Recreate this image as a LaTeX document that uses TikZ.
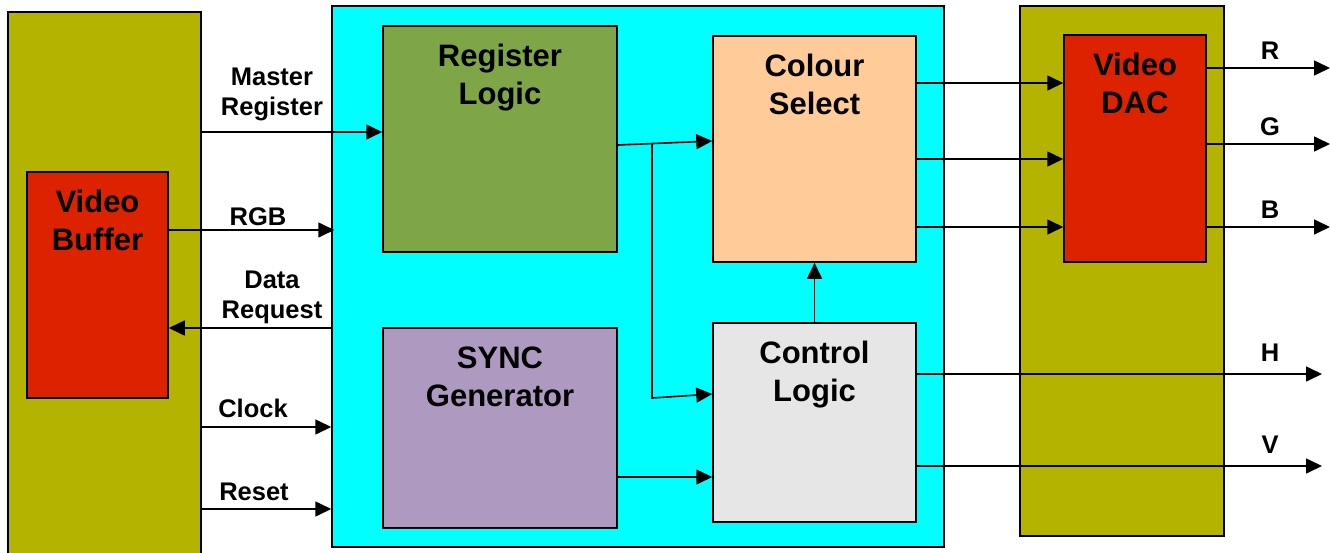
\documentclass[tikz,border=0pt]{standalone}
\usepackage{fontspec}
\setmainfont{Liberation Sans}
\usetikzlibrary{arrows.meta}
\definecolor{hostolive}{RGB}{180,180,0}
\definecolor{blockred}{RGB}{221,34,0}
\definecolor{regcyan}{RGB}{0,255,255}
\definecolor{reggreen}{RGB}{126,166,70}
\definecolor{selpeach}{RGB}{255,204,153}
\definecolor{syncpurple}{RGB}{174,154,192}
\definecolor{ctrlgrey}{RGB}{230,230,230}
\begin{document}
\begin{tikzpicture}[x=1pt,y=-1pt,
  blk/.style={draw=black,line width=1.5pt,rectangle,inner sep=0pt},
  title/.style={anchor=north,inner sep=0pt,yshift=-19pt,align=center,
    font=\fontsize{31}{38}\selectfont\bfseries},
  lbl/.style={align=center,inner sep=0pt,font=\fontsize{25.5}{30}\selectfont\bfseries},
  sig/.style={line width=1.6pt,-{Triangle[length=16pt,width=15pt]}}]
\useasboundingbox (0,0) rectangle (1330,552);
% host blocks
\node[blk,fill=hostolive,minimum width=193pt,minimum height=548pt] (bufhost) at (104.5,286) {};
\node[blk,fill=blockred,minimum width=141pt,minimum height=226pt,
  label={[title]north:{Video\\Buffer}}] (buffer) at (97.5,285) {};
\node[blk,fill=hostolive,minimum width=204pt,minimum height=530pt] (dachost) at (1122,271) {};
\node[blk,fill=blockred,minimum width=142pt,minimum height=227pt,
  label={[title]north:{Video\\DAC}}] (dac) at (1135,148.5) {};
% controller
\node[blk,fill=regcyan,minimum width=612pt,minimum height=541pt] (cyan) at (638,276.5) {};
\node[blk,fill=reggreen,minimum width=234pt,minimum height=226pt,
  label={[title]north:{Register\\Logic}}] (reglogic) at (500,139) {};
\node[blk,fill=selpeach,minimum width=203pt,minimum height=226pt,
  label={[title]north:{Colour\\Select}}] (colsel) at (814.5,149) {};
\node[blk,fill=syncpurple,minimum width=234pt,minimum height=200pt,
  label={[title]north:{SYNC\\Generator}}] (sync) at (500,428) {};
\node[blk,fill=ctrlgrey,minimum width=203pt,minimum height=199pt,
  label={[title]north:{Control\\Logic}}] (ctrl) at (814.5,422.5) {};
% inputs
\draw[sig] (bufhost.east |- 0,132) -- (reglogic.west |- 0,132);
\node[lbl] (lmaster) at (272,94) {Master\\Register};
\draw[sig] (buffer.east |- 0,230) -- ([xshift=3pt]cyan.west |- 0,230);
\node[lbl] (lrgb) at (258,217) {RGB};
\draw[sig] (cyan.west |- 0,328) -- (buffer.east |- 0,328);
\node[lbl] (lreq) at (272,297) {Data\\Request};
\draw[sig] (bufhost.east |- 0,427) -- (cyan.west |- 0,427);
\node[lbl] (lclock) at (253,408) {Clock};
\draw[sig] (bufhost.east |- 0,509) -- (cyan.west |- 0,509);
\node[lbl] (lreset) at (254,492) {Reset};
% internal
\coordinate (tap) at (652,144);
\coordinate (bend) at (652,398);
\draw[sig] (reglogic.east |- 0,145) -- (colsel.west |- 0,141);
\draw[sig] (tap) -- (bend) -- (ctrl.west |- 0,394);
\draw[sig] (sync.east |- 0,477) -- (ctrl.west |- 0,477);
\draw[sig] (ctrl.north) -- (colsel.south);
\foreach \y in {83,159,227}
  \draw[sig] (colsel.east |- 0,\y) -- (dac.west |- 0,\y);
% outputs
\foreach \y/\t in {68/R,144/G,227/B}{
  \coordinate (out\t) at (1330,\y);
  \draw[sig] (dac.east |- 0,\y) -- (out\t);
  \node[lbl] (lab\t) at (1270,\y-17) {\t};
}
\foreach \y/\t in {374/H,466/V}{
  \coordinate (out\t) at (1322,\y);
  \draw[sig] (ctrl.east |- 0,\y) -- (out\t);
  \node[lbl] (lab\t) at (1270,\y-21) {\t};
}
\end{tikzpicture}
\end{document}
